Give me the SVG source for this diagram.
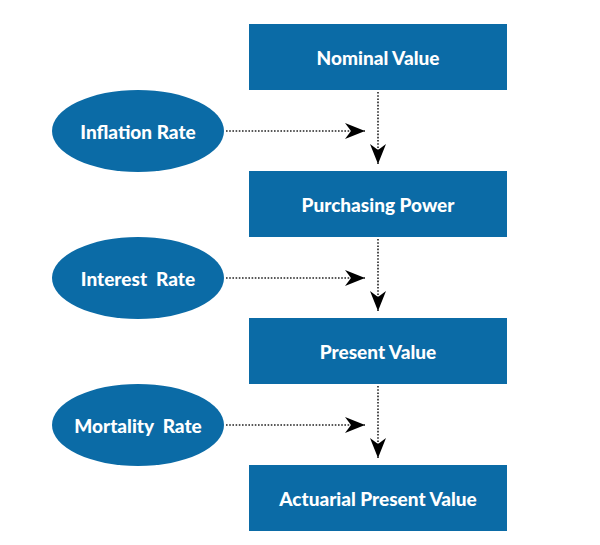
<svg xmlns="http://www.w3.org/2000/svg" width="600" height="545" viewBox="0 0 600 545">
<defs>
<style>
.box{fill:#0b6ba6}
.ell{fill:#0b6ba6}
.t{fill:#fff;font-family:Lato,"Open Sans","Liberation Sans",sans-serif;font-weight:900;font-size:19px;text-anchor:middle;dominant-baseline:central}
.c{stroke:#222;stroke-width:1.6;stroke-dasharray:1.6 1.6;fill:none}
</style>
<marker id="ah" viewBox="0 0 20 16" refX="20" refY="8" markerWidth="20" markerHeight="16" markerUnits="userSpaceOnUse" orient="auto">
<path d="M0,0 L20,8 L0,16 L6,8 Z" fill="#000"/>
</marker>
</defs>
<rect width="600" height="545" fill="#fff"/>
<g id="connectors">
<path class="c" d="M226,131 H365" marker-end="url(#ah)"/>
<path class="c" d="M378,92 V164" marker-end="url(#ah)"/>
<path class="c" d="M226,278 H365" marker-end="url(#ah)"/>
<path class="c" d="M378,239 V311" marker-end="url(#ah)"/>
<path class="c" d="M226,425 H365" marker-end="url(#ah)"/>
<path class="c" d="M378,386 V458" marker-end="url(#ah)"/>
</g>
<g id="nominal"><rect class="box" x="249" y="24" width="258" height="66"/><text class="t" x="378" y="57">Nominal Value</text></g>
<g id="purchasing"><rect class="box" x="249" y="171" width="258" height="66"/><text class="t" x="378" y="204">Purchasing Power</text></g>
<g id="present"><rect class="box" x="249" y="318" width="258" height="66"/><text class="t" x="378" y="351">Present Value</text></g>
<g id="actuarial"><rect class="box" x="249" y="465" width="258" height="66"/><text class="t" x="378" y="498">Actuarial Present Value</text></g>
<g id="inflation"><ellipse class="ell" cx="138" cy="131" rx="86" ry="41"/><text class="t" x="138" y="131">Inflation Rate</text></g>
<g id="interest"><ellipse class="ell" cx="138" cy="278" rx="86" ry="41"/><text class="t" x="138" y="278" xml:space="preserve">Interest  Rate</text></g>
<g id="mortality"><ellipse class="ell" cx="138" cy="425" rx="86" ry="41"/><text class="t" x="138" y="425" xml:space="preserve">Mortality  Rate</text></g>
</svg>
